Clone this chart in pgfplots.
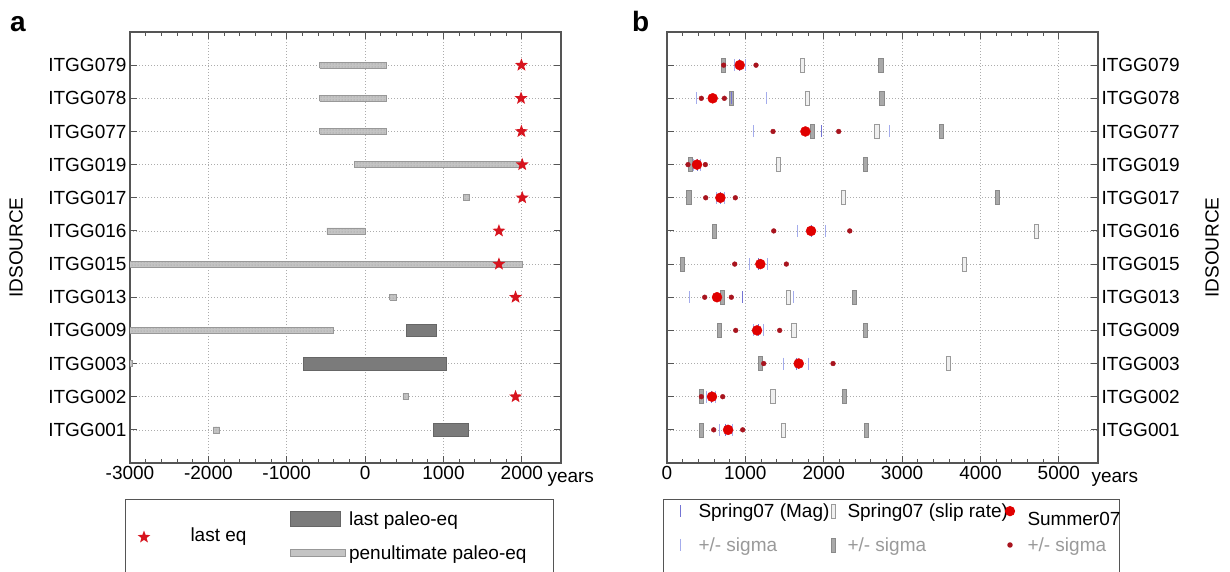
\documentclass[border=0pt]{standalone}
\usepackage{fontspec}
\setmainfont{Liberation Sans}
\usepackage{pgfplots}
\usepackage{pgfplotstable}
\pgfplotsset{compat=1.18}
\usetikzlibrary{patterns}

\definecolor{penfill}{HTML}{C4C4C4}
\definecolor{pendraw}{HTML}{989898}
\definecolor{lastfill}{HTML}{7B7B7B}
\definecolor{lastdraw}{HTML}{666666}
\definecolor{starred}{HTML}{D7141E}
\definecolor{magc}{HTML}{7474D4}
\definecolor{magsig}{HTML}{A4ACEC}
\definecolor{slipfill}{HTML}{F0F0F0}
\definecolor{slipdraw}{HTML}{9A9A9A}
\definecolor{sigfill}{HTML}{A9A9A9}
\definecolor{sigdraw}{HTML}{8A8A8A}
\definecolor{sumred}{HTML}{E00000}
\definecolor{sumdark}{HTML}{A8141E}
\definecolor{axgray}{HTML}{555555}
\definecolor{sigtext}{HTML}{9A9A9A}

\newcommand\fs{\fontsize{19}{22}\selectfont}

\pgfdeclareplotmark{fstar}{%
  \pgfpathmoveto{\pgfpointpolar{90}{\pgfplotmarksize}}%
  \pgfpathlineto{\pgfpointpolar{126}{0.42\pgfplotmarksize}}%
  \pgfpathlineto{\pgfpointpolar{162}{\pgfplotmarksize}}%
  \pgfpathlineto{\pgfpointpolar{198}{0.42\pgfplotmarksize}}%
  \pgfpathlineto{\pgfpointpolar{234}{\pgfplotmarksize}}%
  \pgfpathlineto{\pgfpointpolar{270}{0.42\pgfplotmarksize}}%
  \pgfpathlineto{\pgfpointpolar{306}{\pgfplotmarksize}}%
  \pgfpathlineto{\pgfpointpolar{342}{0.42\pgfplotmarksize}}%
  \pgfpathlineto{\pgfpointpolar{18}{\pgfplotmarksize}}%
  \pgfpathlineto{\pgfpointpolar{54}{0.42\pgfplotmarksize}}%
  \pgfpathclose\pgfusepathqfill}

\pgfdeclareplotmark{vrect}{%
  \pgfpathrectangle{\pgfpoint{-0.3\pgfplotmarksize}{-\pgfplotmarksize}}{\pgfpoint{0.6\pgfplotmarksize}{2\pgfplotmarksize}}%
  \pgfusepathqfillstroke}

\pgfplotsset{
  panel/.style={
    scale only axis, width=431pt, height=431pt,
    ymin=0, ymax=13, ytick={1,...,12},
    yticklabels={ITGG001,ITGG002,ITGG003,ITGG009,ITGG013,ITGG015,ITGG016,ITGG017,ITGG019,ITGG077,ITGG078,ITGG079},
    minor x tick num=4,
    tick pos=both,
    tick align=inside, major tick length=7pt, minor tick length=4pt,
    tick style={axgray, line width=0.9pt},
    axis line style={axgray, line width=1.1pt},
    grid=major, major grid style={dash pattern=on 1pt off 2pt, gray!65, line width=0.7pt},
    tick label style={font=\fs},
    label style={font=\fs},
    /pgf/number format/assume math mode=true,
    /pgf/number format/set thousands separator={},
    ylabel=IDSOURCE,
    xlabel=years,
    legend cell align=left,
    legend style={draw=axgray, line width=1pt, fill=white, font=\fs,
      inner xsep=0pt, column sep=0pt,
      nodes={inner xsep=4pt, inner ysep=2pt}},
  },
  % legend image: one mark; #1 = cell width, #2 = x, #3 = y
  legmark/.style n args={3}{legend image code/.code={%
      \path (0pt,0pt) (#1,0pt); \draw[##1, overlay] plot coordinates {(#2,#3)};}},
  % legend image: rectangle; #1 = cell width, #2 x0, #3 x1, #4 half height
  legrect/.style n args={4}{legend image code/.code={%
      \path (0pt,0pt) (#1,0pt); \draw[##1] (#2,-#4) rectangle (#3,#4);}},
}

% panel a: penultimate paleo-eq intervals (rectangles, y +/- 0.09)
\pgfplotstableread{
x y
-580 11.91
275 11.91
275 12.09
-580 12.09
-580 11.91
nan nan
-580 10.91
275 10.91
275 11.09
-580 11.09
-580 10.91
nan nan
-580 9.91
275 9.91
275 10.09
-580 10.09
-580 9.91
nan nan
-140 8.91
1975 8.91
1975 9.09
-140 9.09
-140 8.91
nan nan
1255 7.91
1330 7.91
1330 8.09
1255 8.09
1255 7.91
nan nan
-487 6.91
0 6.91
0 7.09
-487 7.09
-487 6.91
nan nan
-3100 5.91
2000 5.91
2000 6.09
-3100 6.09
-3100 5.91
nan nan
312 4.91
402 4.91
402 5.09
312 5.09
312 4.91
nan nan
-3100 3.91
-412 3.91
-412 4.09
-3100 4.09
-3100 3.91
nan nan
-3060 2.91
-2965 2.91
-2965 3.09
-3060 3.09
-3060 2.91
nan nan
482 1.91
553 1.91
553 2.09
482 2.09
482 1.91
nan nan
-1935 0.91
-1860 0.91
-1860 1.09
-1935 1.09
-1935 0.91
}\penult

% panel a: last paleo-eq intervals (rectangles, y +/- 0.19)
\pgfplotstableread{
x y
528 3.81
915 3.81
915 4.19
528 4.19
528 3.81
nan nan
-789 2.81
1040 2.81
1040 3.19
-789 3.19
-789 2.81
nan nan
869 0.81
1317 0.81
1317 1.19
869 1.19
869 0.81
}\lastpaleo

% panel a: last eq
\pgfplotstableread{
x y
1995 12
1990 11
1995 10
2005 9
2005 8
1708 7
1708 6
1920 5
1920 2
}\lasteq

% panel b
\pgfplotstableread{
y mag maglo maghi slip sliplo sliphi sum sumlo sumhi
1 750 672 830 1489 438 2547 779 596 966
2 562 500 620 1349 438 2264 574 438 711
3 1650 1489 1809 3593 1191 nan 1681 1234 2119
4 1166 1106 1226 1617 668 2534 1149 877 1438
5 957 289 1609 1545 702 2390 638 481 821
6 1166 1055 1277 3797 191 nan 1191 864 1523
7 1840 1660 2021 4714 604 nan 1838 1362 2332
8 680 630 730 2247 277 4212 681 494 872
9 383 340 430 1417 298 2534 383 268 489
10 1970 1098 2843 2678 1855 3500 1766 1353 2191
11 821 374 1268 1787 821 2742 583 438 732
12 930 864 1000 1723 723 2729 928 723 1136
}\tabb

\begin{document}
\begin{tikzpicture}
\begin{axis}[panel,
  at={(130pt,108pt)}, anchor=south west,
  xmin=-3000, xmax=2500,
  xtick={-3000,-2000,...,2000},
  ylabel style={at={(axis description cs:0,0.5)}, anchor=center, yshift=114pt},
  xlabel style={at={(axis description cs:1,0)}, anchor=base west, xshift=-17pt, yshift=-19pt},
  legend columns=2,
  legend style={at={(rel axis cs:-0.0116,-0.0835)}, anchor=north west,
    inner ysep=10pt, row sep=14.5pt},
]
\addplot[fill=penfill, draw=pendraw, line width=0.6pt, unbounded coords=jump, forget plot,
  postaction={pattern=dots, pattern color=gray!85}] table[x=x,y=y] {\penult};
\addplot[fill=lastfill, draw=lastdraw, line width=0.6pt, unbounded coords=jump, forget plot] table[x=x,y=y] {\lastpaleo};
\addplot[only marks, mark=fstar, mark size=6.8pt, color=starred, forget plot] table[x=x,y=y] {\lasteq};

\addlegendimage{only marks, mark=fstar, mark size=6.6pt, color=starred, legmark={60pt}{18pt}{-18pt}}
\addlegendentry{\raisebox{-23.5pt}[0pt][0pt]{\makebox[90pt][l]{last eq}}}
\addlegendimage{fill=lastfill, draw=lastdraw, line width=0.6pt, legrect={60pt}{5pt}{55pt}{7.5pt}}
\addlegendentry{\makebox[120pt][l]{last paleo-eq}}
\addlegendimage{empty legend}
\addlegendentry{}
\addlegendimage{fill=penfill, draw=pendraw, line width=0.6pt, legrect={60pt}{5pt}{60pt}{3.5pt}}
\addlegendentry{\makebox[200pt][l]{penultimate paleo-eq}}
\end{axis}

\begin{axis}[panel,
  at={(667pt,108pt)}, anchor=south west,
  xmin=0, xmax=5500,
  xtick={0,1000,...,5000},
  yticklabel pos=right,
  ylabel style={at={(axis description cs:1,0.5)}, anchor=center, yshift=-114pt},
  xlabel style={at={(axis description cs:1,0)}, anchor=base west, xshift=-10pt, yshift=-19pt},
  legend columns=3,
  legend style={at={(rel axis cs:-0.0093,-0.0835)}, anchor=north west,
    inner ysep=2pt, row sep=14.6pt},
]
\addplot[only marks, mark=vrect, mark size=7pt, color=sigdraw, mark options={fill=sigfill, line width=0.6pt}, forget plot] table[x=sliplo,y=y] {\tabb};
\addplot[only marks, mark=vrect, mark size=7pt, color=sigdraw, mark options={fill=sigfill, line width=0.6pt}, forget plot] table[x=sliphi,y=y] {\tabb};
\addplot[only marks, mark=vrect, mark size=7pt, color=slipdraw, mark options={fill=slipfill, line width=0.6pt}, forget plot] table[x=slip,y=y] {\tabb};
\addplot[only marks, mark=|, mark size=6pt, color=magsig, mark options={line width=1pt}, forget plot] table[x=maglo,y=y] {\tabb};
\addplot[only marks, mark=|, mark size=6pt, color=magsig, mark options={line width=1pt}, forget plot] table[x=maghi,y=y] {\tabb};
\addplot[only marks, mark=|, mark size=6pt, color=magc, mark options={line width=1pt}, forget plot] table[x=mag,y=y] {\tabb};
\addplot[only marks, mark=*, mark size=2.4pt, color=sumdark, forget plot] table[x=sumlo,y=y] {\tabb};
\addplot[only marks, mark=*, mark size=2.4pt, color=sumdark, forget plot] table[x=sumhi,y=y] {\tabb};
\addplot[only marks, mark=*, mark size=5pt, color=sumred, forget plot] table[x=sum,y=y] {\tabb};

\addlegendimage{only marks, mark=|, mark size=6pt, color=magc, mark options={line width=1pt}, legmark={30pt}{16pt}{0pt}}
\addlegendentry{\makebox[126pt][l]{Spring07 (Mag)}}
\addlegendimage{only marks, mark=vrect, mark size=7pt, color=slipdraw, mark options={fill=slipfill, line width=0.6pt}, legmark={14pt}{4pt}{0pt}}
\addlegendentry{\makebox[155pt][l]{Spring07 (slip rate)}}
\addlegendimage{only marks, mark=*, mark size=4.6pt, color=sumred, legmark={16pt}{3pt}{0pt}}
\addlegendentry{\makebox[88pt][l]{\raisebox{-8pt}[\height][\depth]{Summer07}}}
\addlegendimage{only marks, mark=|, mark size=6pt, color=magsig, mark options={line width=1pt}, legmark={30pt}{16pt}{0pt}}
\addlegendentry{\makebox[126pt][l]{\textcolor{sigtext}{+/- sigma}}}
\addlegendimage{only marks, mark=vrect, mark size=7pt, color=sigdraw, mark options={fill=sigfill, line width=0.6pt}, legmark={14pt}{4pt}{0pt}}
\addlegendentry{\makebox[155pt][l]{\textcolor{sigtext}{+/- sigma}}}
\addlegendimage{only marks, mark=*, mark size=2.2pt, color=sumdark, legmark={16pt}{3pt}{0pt}}
\addlegendentry{\makebox[88pt][l]{\textcolor{sigtext}{+/- sigma}}}
\addlegendimage{empty legend}\addlegendentry{\rule{0pt}{8pt}}
\addlegendimage{empty legend}\addlegendentry{}
\addlegendimage{empty legend}\addlegendentry{}
\end{axis}

\node[anchor=base west, inner sep=0pt, font=\bfseries\fontsize{28}{30}\selectfont] at (10pt,539pt) {a};
\node[anchor=base west, inner sep=0pt, font=\bfseries\fontsize{28}{30}\selectfont] at (632pt,539pt) {b};

\pgfresetboundingbox
\path[use as bounding box] (0,0) rectangle (1230pt,571pt);
\end{tikzpicture}
\end{document}
